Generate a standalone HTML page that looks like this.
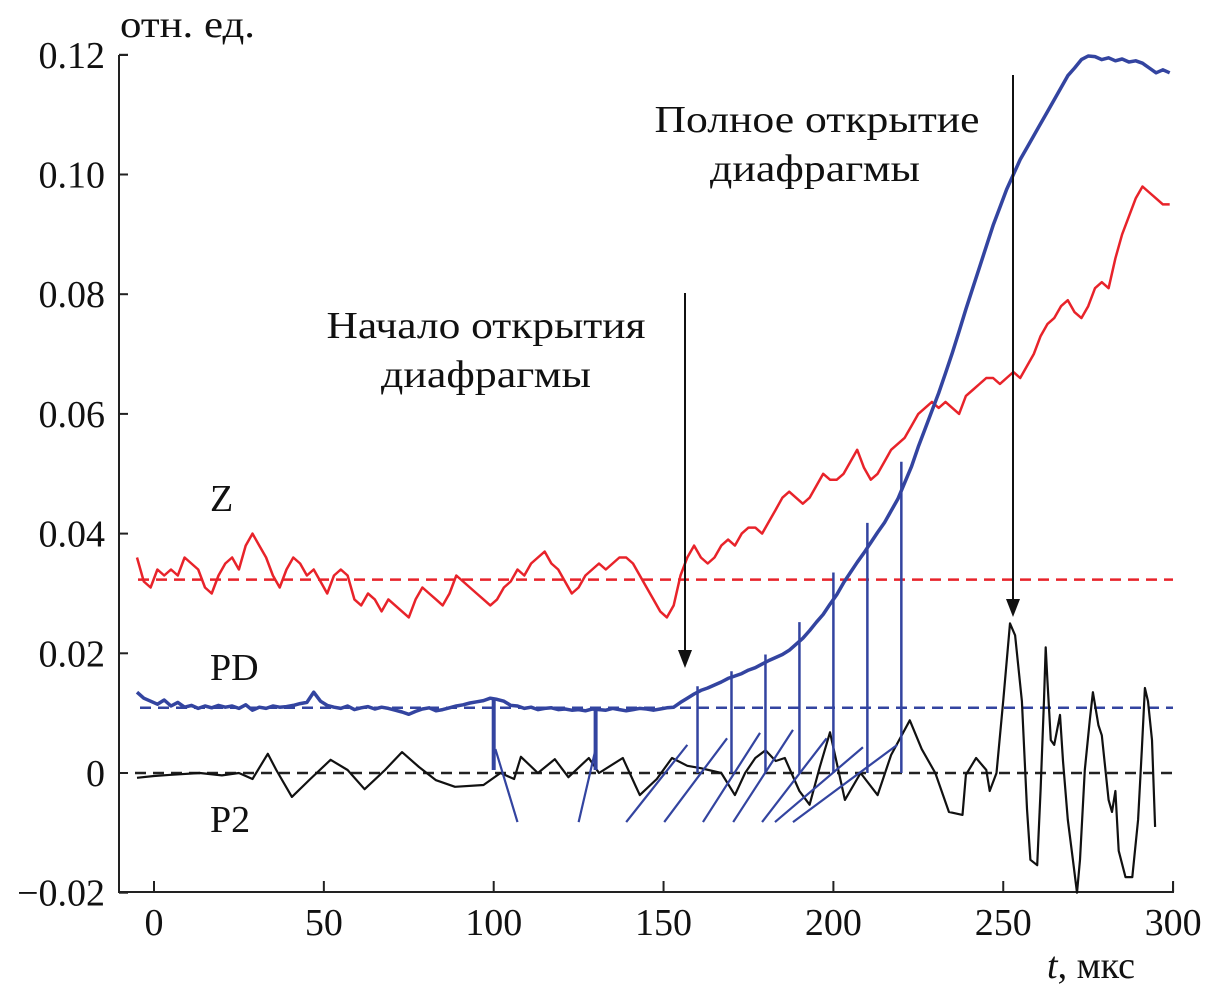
<!DOCTYPE html>
<html><head><meta charset="utf-8"><style>
html,body{margin:0;padding:0;background:#fff;}
svg{display:block;font-family:"Liberation Serif",serif;}
</style></head><body>
<svg id="chart" width="1208" height="993" viewBox="0 0 1208 993" xmlns="http://www.w3.org/2000/svg">
<g id="axes"></g>
<g id="plot"></g>
<g id="labels"></g>
</svg>
<script>
const xTicks = [0, 50, 100, 150, 200, 250, 300];
const yTicks = [-0.02, 0, 0.02, 0.04, 0.06, 0.08, 0.10, 0.12];
const yTickLabels = ["\u22120.02", "0", "0.02", "0.04", "0.06", "0.08", "0.10", "0.12"];
const zBaseline = 0.0323;
const pdBaseline = 0.0109;
const p2Baseline = 0;
const zT = [-5,-3,-1,1,3,5,7,9,11,13,15,17,19,21,23,25,27,29,31,33,35,37,39,41,43,45,47,49,51,53,55,57,59,61,63,65,67,69,71,73,75,77,79,81,83,85,87,89,91,93,95,97,99,101,103,105,107,109,111,113,115,117,119,121,123,125,127,129,131,133,135,137,139,141,143,145,147,149,151,153,155,157,159,161,163,165,167,169,171,173,175,177,179,181,183,185,187,189,191,193,195,197,199,201,203,205,207,209,211,213,215,217,219,221,223,225,227,229,231,233,235,237,239,241,243,245,247,249,251,253,255,257,259,261,263,265,267,269,271,273,275,277,279,281,283,285,287,289,291,293,295,297,299];
const zV = [0.036,0.032,0.031,0.034,0.033,0.034,0.033,0.036,0.035,0.034,0.031,0.030,0.033,0.035,0.036,0.034,0.038,0.040,0.038,0.036,0.033,0.031,0.034,0.036,0.035,0.033,0.034,0.032,0.030,0.033,0.034,0.033,0.029,0.028,0.030,0.029,0.027,0.029,0.028,0.027,0.026,0.029,0.031,0.030,0.029,0.028,0.030,0.033,0.032,0.031,0.030,0.029,0.028,0.029,0.031,0.032,0.034,0.033,0.035,0.036,0.037,0.035,0.034,0.032,0.030,0.031,0.033,0.034,0.035,0.034,0.035,0.036,0.036,0.035,0.033,0.031,0.029,0.027,0.026,0.028,0.033,0.036,0.038,0.036,0.035,0.036,0.038,0.039,0.038,0.040,0.041,0.041,0.040,0.042,0.044,0.046,0.047,0.046,0.045,0.046,0.048,0.050,0.049,0.049,0.050,0.052,0.054,0.051,0.049,0.050,0.052,0.054,0.055,0.056,0.058,0.060,0.061,0.062,0.061,0.062,0.061,0.060,0.063,0.064,0.065,0.066,0.066,0.065,0.066,0.067,0.066,0.068,0.070,0.073,0.075,0.076,0.078,0.079,0.077,0.076,0.078,0.081,0.082,0.081,0.086,0.090,0.093,0.096,0.098,0.097,0.096,0.095,0.095];
const pdT = [-5,-3,-1,1,3,5,7,9,11,13,15,17,19,21,23,25,27,29,31,33,35,37,39,41,43,45,47,49,51,53,55,57,59,61,63,65,67,69,71,73,75,77,79,81,83,85,87,89,91,93,95,97,99,101,103,105,107,109,111,113,115,117,119,121,123,125,127,129,131,133,135,137,139,141,143,145,147,149,151,153,155,157,159,161,163,165,167,169,171,173,175,177,179,181,183,185,187,189,191,193,195,197,199,201,203,205,207,209,211,213,215,217,219,221,223,225,227,229,231,233,235,237,239,241,243,245,247,249,251,253,255,257,259,261,263,265,267,269,271,273,275,277,279,281,283,285,287,289,291,293,295,297,299];
const pdV = [0.0135,0.0125,0.012,0.0115,0.0122,0.0112,0.0118,0.011,0.0113,0.0108,0.0112,0.0109,0.0113,0.011,0.0112,0.0108,0.0114,0.0105,0.011,0.0108,0.0112,0.011,0.0111,0.0113,0.0116,0.0118,0.0135,0.012,0.0113,0.011,0.0108,0.0112,0.0106,0.0109,0.0111,0.0107,0.011,0.0108,0.0105,0.0102,0.0098,0.0103,0.0107,0.0109,0.0104,0.0106,0.0109,0.0112,0.0114,0.0117,0.0119,0.0121,0.0125,0.0123,0.012,0.0113,0.0112,0.0108,0.011,0.0106,0.0108,0.0109,0.0106,0.0107,0.0105,0.0106,0.0104,0.0107,0.0106,0.0105,0.0108,0.0106,0.0104,0.0106,0.0108,0.0107,0.0105,0.0107,0.0109,0.011,0.0118,0.0125,0.0132,0.0138,0.0142,0.0147,0.0152,0.0158,0.0162,0.0166,0.0172,0.0176,0.0182,0.0188,0.0193,0.0198,0.0205,0.0215,0.0225,0.0238,0.0252,0.0265,0.0282,0.0298,0.0318,0.0335,0.0352,0.0368,0.0385,0.0402,0.0418,0.0438,0.0458,0.0485,0.0512,0.0545,0.0575,0.0605,0.0635,0.0668,0.0702,0.0738,0.0775,0.081,0.0845,0.088,0.0915,0.0945,0.0975,0.1,0.1025,0.1045,0.1065,0.1085,0.1105,0.1125,0.1145,0.1165,0.1178,0.1192,0.1198,0.1197,0.1192,0.1195,0.119,0.1193,0.1188,0.119,0.1186,0.1178,0.117,0.1175,0.117];
const p2T = [-5,0,5,13.5,20,25,27,29,33.5,36,40.6,46,52,57,62,68,73,78,83,88.6,97,102,106,108,113,118,122,128,131,138,143,148,152.5,157,161,167,171,174,177,180,183,185.7,190,193,196,199,203.4,208,213,217,222.5,226,230,234,238,239,242,245,246,248,250,252,253.5,255.5,257,258,260,261,262,262.5,263,264,265,266.7,267.6,269,270.5,271.7,272.6,274,275.5,276.4,278,279,281,282,283,284,286,288,289.7,290.8,291.7,292.6,293.8,294.7];
const p2V = [-0.0008,-0.0005,-0.0003,0,-0.0004,0,-0.0005,-0.001,0.0032,0.0005,-0.004,-0.001,0.0022,0.0005,-0.0027,0.0005,0.0035,0.001,-0.0012,-0.0023,-0.002,0,-0.001,0.0027,0,0.0023,-0.0007,0.0025,0,0.0025,-0.0037,-0.001,0.0025,0.0012,0.0008,0,-0.0037,0,0.0025,0.0038,0.002,0.0025,-0.003,-0.0053,0.001,0.0068,-0.0045,0,-0.0037,0.003,0.0088,0.004,0,-0.0065,-0.007,-0.0003,0.0025,0.0005,-0.003,0,0.0122,0.025,0.023,0.012,-0.006,-0.0145,-0.0154,-0.0028,0.0122,0.021,0.0155,0.0055,0.0047,0.0097,0.002,-0.0078,-0.0145,-0.02,-0.0145,0.0005,0.009,0.0135,0.008,0.0063,-0.0045,-0.0065,-0.003,-0.013,-0.0174,-0.0174,-0.0078,0.0038,0.0142,0.012,0.0055,-0.009];
const spikeT = [100, 130, 160, 170, 180, 190, 200, 210, 220];
const spikeTop = [0.0125, 0.011, 0.0145, 0.017, 0.0198, 0.0252, 0.0335, 0.0418, 0.052];
const spikeBottom = [0.0005, 0.0005, 0, 0, 0, 0, 0, 0, 0];
const diagT1 = [100.5, 130, 157, 168.7, 178.4, 188.1, 198, 208.7, 218.8];
const diagV1 = [0.004, 0.004, 0.0047, 0.0058, 0.0067, 0.0072, 0.0058, 0.0043, 0.0047];
const diagT2 = [107, 125, 139, 150.2, 161.6, 170.5, 179, 182.8, 188.1];
const diagV2 = [-0.0082, -0.0082, -0.0082, -0.0082, -0.0082, -0.0082, -0.0082, -0.0082, -0.0082];

const NS = "http://www.w3.org/2000/svg";
const X0 = 154, XS = 3.397, Y0 = 773, YS = 119.7/0.02;
function sx(t){ return X0 + t*XS; }
function sy(v){ return Y0 - v*YS; }
function mk(tag, attrs, parent){ const e=document.createElementNS(NS,tag); for(const k in attrs) e.setAttribute(k,attrs[k]); parent.appendChild(e); return e; }
const axes=document.getElementById('axes'), plot=document.getElementById('plot'), labels=document.getElementById('labels');

let ax = mk('path',{d:`M119,55 H128 M119,55 V892 H1173 V882`,fill:'none',stroke:'#222','stroke-width':2},axes);


yTicks.forEach((v,i)=>{
  const tk=mk('line',{x1:119,x2:128,y1:sy(v),y2:sy(v),stroke:'#222','stroke-width':2},axes);
  
  
  const tl=mk('text',{x:105,y:sy(v)+13,'text-anchor':'end','font-size':38,fill:'#111'},axes);
  tl.textContent=yTickLabels[i];
  
  
});
xTicks.forEach(t=>{
  const tk=mk('line',{x1:sx(t),x2:sx(t),y1:892,y2:881,stroke:'#222','stroke-width':2},axes);
  
  
  const tl=mk('text',{x:sx(t),y:935,'text-anchor':'middle','font-size':38,fill:'#111'},axes);
  tl.textContent=String(t);
  
  
});

function dash(v,color,x1,name){
  const l=mk('line',{x1:x1,x2:1173,y1:sy(v),y2:sy(v),stroke:color,'stroke-width':2.5,'stroke-dasharray':'11 7'},plot);
  
  
}
dash(zBaseline,'#e8232a',138,'z-baseline');
dash(pdBaseline,'#3344a0',140,'pd-baseline');
dash(p2Baseline,'#222',135,'p2-baseline');

function series(T,V,color,w,name){
  const d=T.map((t,i)=>(i?'L':'M')+sx(t).toFixed(1)+','+sy(V[i]).toFixed(1)).join(' ');
  const p=mk('path',{d:d,fill:'none',stroke:color,'stroke-width':w,'stroke-linejoin':'round'},plot);
  
  
}
series(p2T,p2V,'#111',2.2,'p2-line');
spikeT.forEach((t,i)=>{
  const l=mk('line',{x1:sx(t),x2:sx(t),y1:sy(spikeTop[i]),y2:sy(spikeBottom[i]),stroke:'#3344a0','stroke-width':i<2?4:2.5},plot);
  
  
});
diagT1.forEach((t,i)=>{
  const l=mk('line',{x1:sx(t),y1:sy(diagV1[i]),x2:sx(diagT2[i]),y2:sy(diagV2[i]),stroke:'#3344a0','stroke-width':2.2},plot);
  
  
});
series(zT,zV,'#e8232a',2.5,'z-line');
series(pdT,pdV,'#3344a0',3.5,'pd-line');

function arrow(x,y1,y2,name){
  const l=mk('line',{x1:x,x2:x,y1:y1,y2:y2-12,stroke:'#111','stroke-width':2},labels);
  
  
  const h=mk('path',{d:`M${x-7},${y2-18} L${x+7},${y2-18} L${x},${y2} Z`,fill:'#111'},labels);
  
  
}
arrow(685,293,668,'start-arrow');
arrow(1013,75,617,'full-arrow');

function txt(x,y,s,anchor,size,name,len){
  const e=mk('text',{x:x,y:y,'text-anchor':anchor,'font-size':size,fill:'#111'},labels);
  if(len){ e.setAttribute('textLength',len); e.setAttribute('lengthAdjust','spacingAndGlyphs'); }
  e.textContent=s;
  
  
  return e;
}
txt(120,37,'отн. ед.','start',38,'y-axis-title',135);
const xt=mk('text',{x:1135,y:978,'text-anchor':'end','font-size':38,fill:'#111'},labels);


xt.innerHTML='<tspan font-style="italic">t</tspan>, мкс';
txt(486,338,'Начало открытия','middle',38,'start-annotation-line1',319);
txt(486,387,'диафрагмы','middle',38,'start-annotation-line2',210);
txt(817,132,'Полное открытие','middle',38,'full-annotation-line1',325);
txt(815,181,'диафрагмы','middle',38,'full-annotation-line2',210);
txt(210,511,'Z','start',38,'z-label');
txt(210,680,'PD','start',38,'pd-label');
txt(210,832,'P2','start',38,'p2-label');
</script>
</body></html>
